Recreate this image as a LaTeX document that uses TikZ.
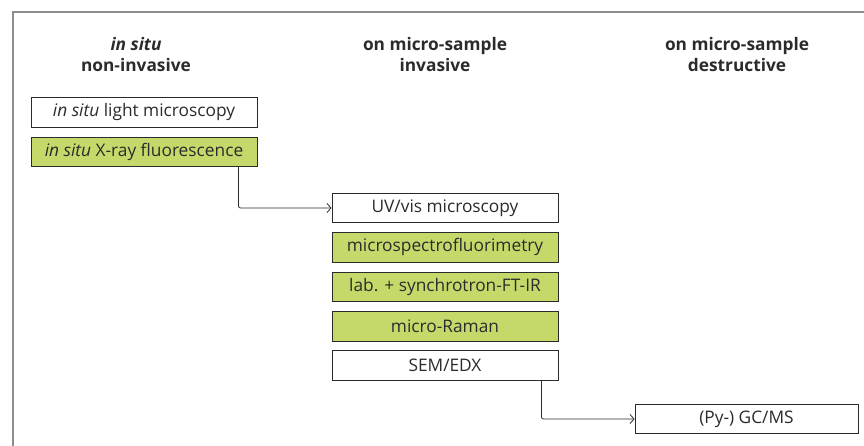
\documentclass[tikz,border=0pt]{standalone}
\usepackage{fontspec}
\setmainfont{Open Sans}
\usetikzlibrary{arrows.meta,positioning}
\definecolor{techgreen}{HTML}{C5D96B}
\definecolor{inkgray}{HTML}{2B2B2B}
\definecolor{framegray}{HTML}{8C8C8C}

\begin{document}
\begin{tikzpicture}[x=1pt, y=1pt,
  node distance=9pt and 5pt,
  method/.style={rectangle, draw=inkgray, fill=white, line width=0.9pt,
                 minimum width=226pt, minimum height=29.5pt, inner sep=0pt,
                 font=\fontsize{17.3}{20}\selectfont, text=inkgray},
  hit/.style={method, fill=techgreen},
  head/.style={align=center, font=\fontsize{17.3}{21}\selectfont\bfseries, text=inkgray},
  arrow/.style={-{Straight Barb[length=4pt,width=9pt]}, line width=0.8pt,
                inkgray, rounded corners=2pt}
]
\useasboundingbox (0,0) rectangle (864,-446);

% Frame
\draw[framegray, line width=1.5pt] (13,-446) -- (13,-12) -- (864,-12);

% Column heads
\node[head] (h1) at (136,-55) {\textit{in situ}\\non-invasive};
\node[head] (h2) at (435,-55) {on micro-sample\\invasive};
\node[head] (h3) at (737,-55) {on micro-sample\\destructive};

% In situ column
\node[method]            (lm)  at (144,-112.5) {\textit{in situ} light microscopy};
\node[hit, below=of lm]  (xrf) {\textit{in situ} X-ray fluorescence};

% Micro-sample, invasive
\node[method]            (uv)  at (445,-208) {UV/vis microscopy};
\node[hit, below=of uv]  (msf) {microspectrofluorimetry};
\node[hit, below=of msf] (ftir) {lab. + synchrotron-FT-IR};
\node[hit, below=of ftir] (ram) {micro-Raman};
\node[method, below=of ram] (sem) {SEM/EDX};

% Micro-sample, destructive
\node[method, minimum width=223pt] (gcms) at (746.5,-419) {(Py-) GC/MS};

% Arrows
\draw[arrow] ([xshift=-19pt]xrf.south east) |- (uv.west);
\draw[arrow] ([xshift=-17pt]sem.south east) |- (gcms.west);

\end{tikzpicture}
\end{document}
